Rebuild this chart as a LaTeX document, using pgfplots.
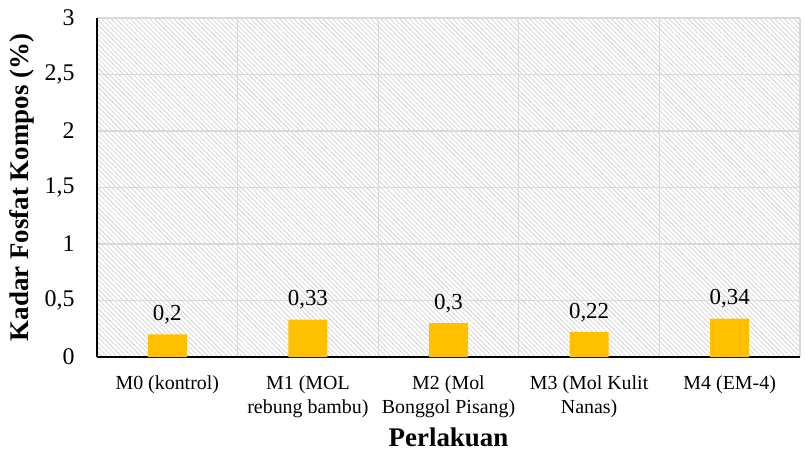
\documentclass[border=0pt]{standalone}
\usepackage{fontspec}
\setmainfont{Liberation Serif}
\usepackage{pgfplots}
\pgfplotsset{compat=1.18}
\usetikzlibrary{patterns.meta}
\definecolor{barfill}{HTML}{FFC000}
\definecolor{gridc}{HTML}{D9D9D9}
\definecolor{hatchc}{HTML}{CCCCCC}

\begin{document}
\begin{tikzpicture}
\begin{axis}[
  at={(0,0)}, anchor=south west,
  scale only axis,
  width=703bp, height=339bp,
  xmin=-0.5, xmax=4.5,
  ymin=0, ymax=3,
  ytick={0,0.5,1,1.5,2,2.5,3},
  xtick={0,1,2,3,4},
  xticklabels={M0 (kontrol),M1 (MOL\\rebung bambu),M2 (Mol\\Bonggol Pisang),M3 (Mol Kulit\\Nanas),M4 (EM-4)},
  minor xtick={0.5,1.5,2.5,3.5,4.5},
  xminorgrids=true, ymajorgrids=true,
  grid style={gridc, line width=1.3bp},
  minor grid style={gridc, line width=1.3bp},
  major tick length=0pt, minor tick length=0pt,
  axis x line*=bottom, axis y line*=left,
  axis line style={black, line width=1.2bp, -},
  axis background/.style={pattern={Lines[angle=-45, distance=3.4bp, line width=0.6bp]}, pattern color=hatchc},
  /pgf/number format/use comma,
  /pgf/number format/assume math mode=true,
  yticklabel style={font=\fontsize{24}{26}\selectfont, xshift=-19bp},
  xticklabel style={font=\fontsize{20}{24}\selectfont, align=center, yshift=-15bp},
  xlabel={Perlakuan},
  ylabel={Kadar Fosfat Kompos (\%)},
  every axis x label/.style={at={(axis description cs:0.5,0)}, yshift=-80bp, anchor=center, font=\bfseries\fontsize{27}{30}\selectfont},
  every axis y label/.style={at={(axis description cs:0,0.5)}, xshift=-75bp, rotate=90, anchor=center, font=\bfseries\fontsize{27}{30}\selectfont},
  nodes near coords,
  every node near coord/.append style={font=\fontsize{23}{25}\selectfont, black, yshift=7bp},
]
\addplot[ybar, bar width=39bp, fill=barfill, draw=none] coordinates {
  (0,0.20) (1,0.33) (2,0.30) (3,0.22) (4,0.34)
};
\end{axis}
\useasboundingbox (-97bp,-94bp) rectangle (708bp,357bp);
\end{tikzpicture}
\end{document}
